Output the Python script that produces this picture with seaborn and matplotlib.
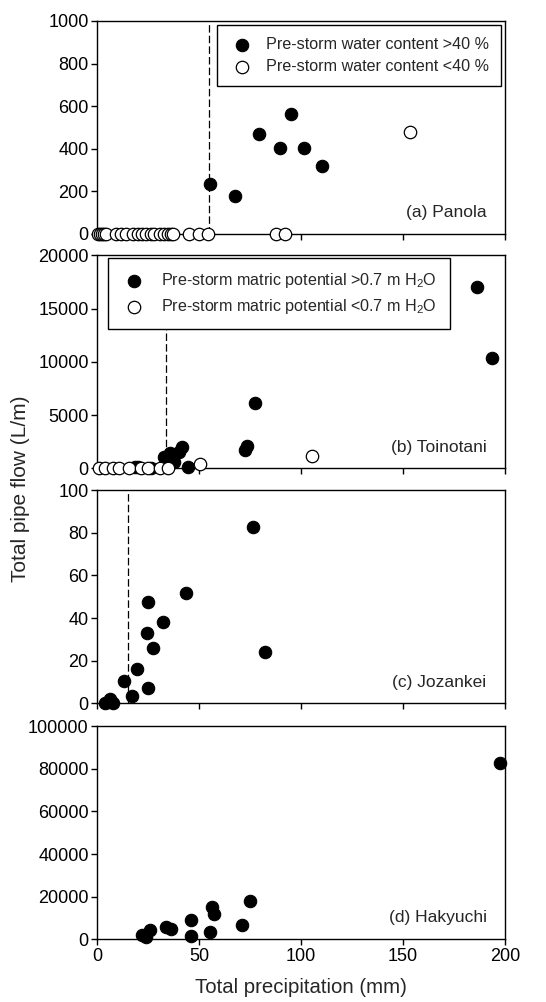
import matplotlib
matplotlib.use("Agg")
import matplotlib.pyplot as plt
import seaborn as sns
import numpy as np

sns.set_style("ticks")
plt.rcParams['font.family'] = ['Liberation Sans', 'DejaVu Sans']
plt.rcParams['mathtext.fontset'] = 'custom'
plt.rcParams['mathtext.rm'] = 'Liberation Sans'
plt.rcParams['mathtext.it'] = 'Liberation Sans:italic'

# ---- (a) Panola ----
a_wet_x = [55.4, 67.8, 79.6, 89.7, 95.1, 101.3, 110.5]
a_wet_y = [235, 180, 470, 403, 561, 403, 318]
a_dry_x = [0.5, 1.5, 2.5, 3.5, 4.5, 9.5, 12, 14, 17.5, 20, 22, 24, 26.5, 28,
           31, 33, 35, 36.5, 37.5, 45, 50, 54.5, 88, 92, 153.3]
a_dry_y = [0] * 24 + [481]
a_thresh = 55

# ---- (b) Toinotani ----
b_wet_x = [186.1, 193.9, 77.4, 72.5, 73.6, 41.7, 40.1, 32.7, 36.0, 37.6, 44.5,
           18.7, 20.0, 26.4, 34.5]
b_wet_y = [17030, 10375, 6094, 1720, 2090, 1970, 1560, 1090, 1400, 625, 156,
           150, 80, 60, 700]
b_dry_x = [0.8, 3.9, 7.8, 10.9, 15.6, 21.8, 24.9, 31.1, 35.0, 50.7, 105.6]
b_dry_y = [0, 0, 0, 0, 0, 0, 0, 0, 0, 375, 1156]
b_thresh = 34

# ---- (c) Jozankei ----
c_x = [76.6, 43.7, 25.0, 32.4, 24.5, 27.5, 82.3, 19.6, 13.1, 25.0, 17.2,
       4.1, 6.5, 7.9, 5.2]
c_y = [82.8, 51.6, 47.7, 38.0, 32.8, 26.1, 23.9, 15.9, 10.6, 7.0, 3.6,
       0.3, 1.9, 0.3, 0.8]
c_thresh = 15

# ---- (d) Hakyuchi ----
d_x = [197.5, 75.1, 56.2, 57.3, 46.2, 71.2, 33.9, 36.3, 26.2, 55.2, 22.1, 24.2, 46.2]
d_y = [82960, 17780, 15280, 11850, 9045, 6550, 5614, 4834, 4210, 3275, 2183, 1250, 1715]

panel_labels = ["(a) Panola", "(b) Toinotani", "(c) Jozankei", "(d) Hakyuchi"]
ylims = [1000, 20000, 100, 100000]
ysteps = [200, 5000, 20, 20000]
xticks = [0, 50, 100, 150, 200]

fig = plt.figure(figsize=(5.46, 10.02), dpi=100)
left, width, height = 0.1777, 0.747, 0.2126
bottoms = [0.7665, 0.5326, 0.2981, 0.0626]
axes = [fig.add_axes([left, b, width, height]) for b in bottoms]

S = 80
filled = dict(color='black', edgecolor='black', linewidth=0.8, s=S, clip_on=False, zorder=3)
opened = dict(color='white', edgecolor='black', linewidth=0.9, s=S, clip_on=False, zorder=3)
dash = dict(color='black', lw=0.9, ls=(0, (6, 2.5)), zorder=1)

ax = axes[0]
ax.axvline(a_thresh, ymin=0, ymax=1, **dash)
sns.scatterplot(x=a_wet_x, y=a_wet_y, ax=ax, label="Pre-storm water content >40 %", **filled)
sns.scatterplot(x=a_dry_x, y=a_dry_y, ax=ax, label="Pre-storm water content <40 %", **opened)
leg = ax.legend(loc='upper right', bbox_to_anchor=(0.99, 0.982), fontsize=11.6,
                frameon=True, fancybox=False, edgecolor='black', framealpha=1,
                borderpad=0.75, handletextpad=0.7, labelspacing=0.45, borderaxespad=0,
                handlelength=1.6)
leg.get_frame().set_linewidth(1.0)
leg.set_zorder(5)

ax = axes[1]
ax.axvline(b_thresh, ymin=0, ymax=1, **dash)
sns.scatterplot(x=b_wet_x, y=b_wet_y, ax=ax, label="Pre-storm matric potential >0.7 m H$_2$O", **filled)
sns.scatterplot(x=b_dry_x, y=b_dry_y, ax=ax, label="Pre-storm matric potential <0.7 m H$_2$O", **opened)
leg = ax.legend(loc='upper left', bbox_to_anchor=(0.027, 0.986), fontsize=11.6,
                frameon=True, fancybox=False, edgecolor='black', framealpha=1,
                borderpad=0.8, handletextpad=0.9, labelspacing=0.45, borderaxespad=0,
                handlelength=1.6)
leg.get_frame().set_linewidth(1.0)
leg.set_zorder(5)

ax = axes[2]
ax.axvline(c_thresh, ymin=0, ymax=1, **dash)
sns.scatterplot(x=c_x, y=c_y, ax=ax, **filled)

ax = axes[3]
sns.scatterplot(x=d_x, y=d_y, ax=ax, **filled)

for i, ax in enumerate(axes):
    ax.set_xlim(0, 200)
    ax.set_ylim(0, ylims[i])
    ax.set_yticks(np.arange(0, ylims[i] + 1, ysteps[i]))
    ax.set_xticks(xticks)
    ax.tick_params(direction='out', length=4, width=1, labelsize=13, pad=2, colors='black')
    for sp in ax.spines.values():
        sp.set_visible(True)
        sp.set_linewidth(1.0)
        sp.set_color('black')
    ax.set_xlabel("")
    ax.set_ylabel("")
    ax.text(0.955, 0.10, panel_labels[i], transform=ax.transAxes, ha='right', va='center',
            fontsize=12.5, zorder=6)
    if i < 3:
        ax.set_xticklabels([])
    if ax.get_legend() is not None and i > 1:
        ax.get_legend().remove()

axes[3].set_xticklabels([str(v) for v in xticks])
axes[3].set_xlabel("Total precipitation (mm)", fontsize=14.7, labelpad=10)
fig.text(0.038, 0.512, "Total pipe flow (L/m)", rotation=90, ha='center', va='center', fontsize=15)

fig.savefig("out.png", dpi=100)
